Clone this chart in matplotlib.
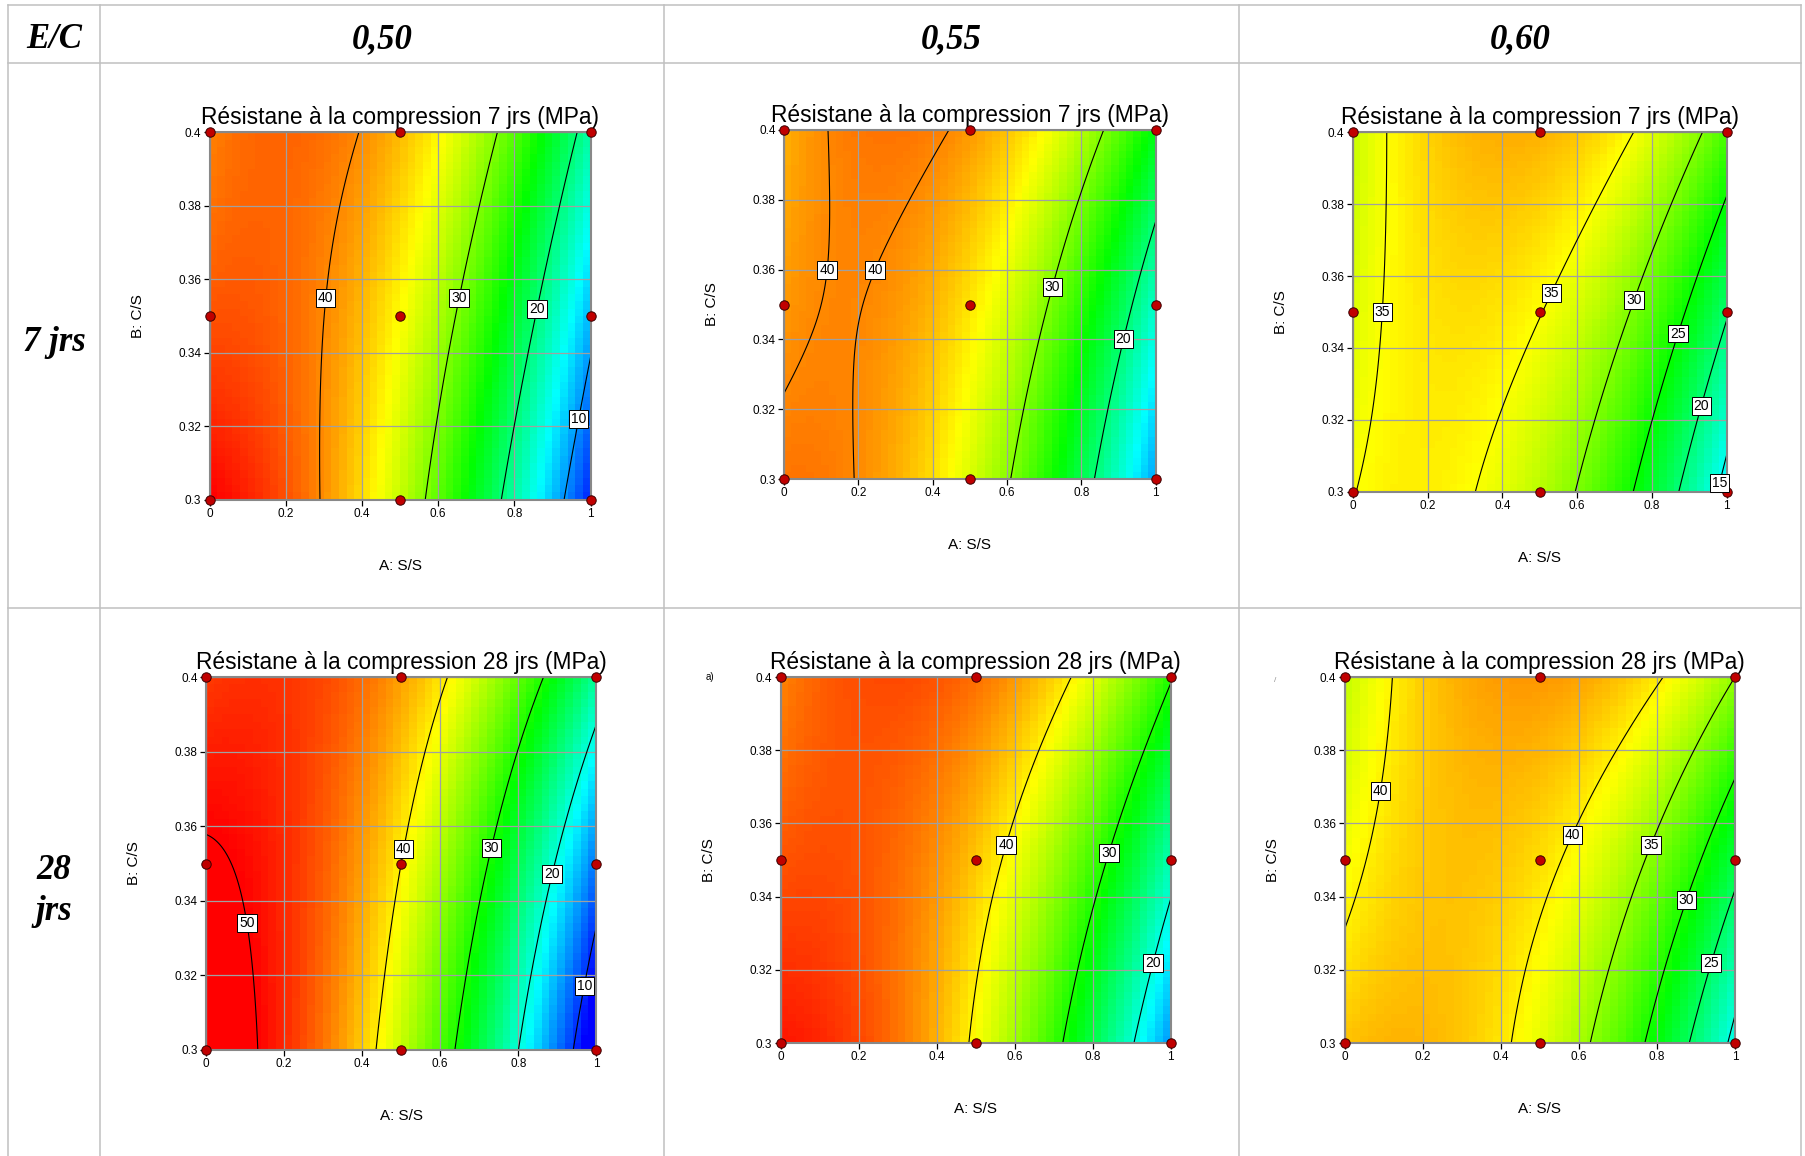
import numpy as np
import matplotlib
matplotlib.use("Agg")
import matplotlib.pyplot as plt
from matplotlib.colors import LinearSegmentedColormap
from matplotlib.lines import Line2D

plt.rcParams['font.family'] = ['Liberation Sans', 'DejaVu Sans']

# ---------------- data ----------------
A_levels = [0.0, 0.5, 1.0]          # A: S/S design levels
B_levels = [0.30, 0.35, 0.40]       # B: C/S design levels
ec_labels = ['0,50', '0,55', '0,60']
age_labels = ['7 jrs', '28\njrs']
titles = ['Résistane à la compression 7 jrs (MPa)',
          'Résistane à la compression 28 jrs (MPa)']

# response (MPa) at design points: rows = B_levels, columns = A_levels
r7_050 = [[45.7, 32.8, 5.3], [42.2, 35.2, 11.4], [40.3, 38.0, 18.0]]
r7_055 = [[40.8, 33.7, 10.6], [39.3, 36.2, 16.6], [38.3, 39.3, 24.1]]
r7_060 = [[34.9, 32.3, 13.7], [33.7, 35.1, 20.3], [32.8, 38.3, 27.7]]
r28_050 = [[52.5, 37.1, 5.4], [50.4, 40.0, 12.8], [47.5, 43.4, 22.8]]
r28_055 = [[49.1, 39.4, 14.0], [46.5, 41.8, 21.7], [44.5, 45.4, 30.3]]
r28_060 = [[41.9, 38.5, 19.0], [39.0, 40.8, 26.3], [36.9, 43.7, 35.0]]

# labelled contour levels, and unlabelled ones
levels_7_050 = [10, 20, 30, 40]
levels_7_055 = [20, 30, 40]
levels_7_060 = [15, 20, 25, 30, 35]
levels_28_050 = [10, 20, 30, 40, 50]
levels_28_055 = [20, 30, 40]
levels_28_060 = [25, 30, 35, 40]
unlabelled_28_060 = [20]

range_7 = (4, 45.6)
range_28 = (8, 50)

# ---------------- layout / style ----------------
W, H = 1805, 1156
fig = plt.figure(figsize=(W / 100, H / 100), dpi=100)
fig.patch.set_facecolor('white')

cmap = LinearSegmentedColormap.from_list(
    'de', ['#0000ff', '#00ffff', '#00ff00', '#ffff00', '#ff0000'])

# axes boxes in pixels: (x0, x1, ytop, ybottom)
boxes = [(209.5, 590.6, 132.4, 499.6), (784, 1155.8, 130, 479), (1352.7, 1726.8, 132.4, 491.6),
         (206, 596.3, 677, 1050), (780.5, 1170.8, 677, 1043), (1344.6, 1734.9, 677, 1043)]

label_pos = [
    [(0.30, 0.355), (0.645, 0.355), (0.855, 0.352), (0.965, 0.322)],
    [(0.11, 0.36), (0.245, 0.36), (0.725, 0.355), (0.915, 0.34)],
    [(0.08, 0.35), (0.525, 0.3555), (0.75, 0.3535), (0.87, 0.344), (0.93, 0.324), (0.978, 0.3025)],
    [(0.10, 0.334), (0.504, 0.354), (0.733, 0.354), (0.892, 0.347), (0.972, 0.317)],
    [(0.58, 0.354), (0.842, 0.352), (0.951, 0.322)],
    [(0.08, 0.369), (0.58, 0.357), (0.785, 0.354), (0.876, 0.339), (0.935, 0.322)],
]

panels = [
    (r7_050, levels_7_050, [], range_7, titles[0]),
    (r7_055, levels_7_055, [], range_7, titles[0]),
    (r7_060, levels_7_060, [], range_7, titles[0]),
    (r28_050, levels_28_050, [], range_28, titles[1]),
    (r28_055, levels_28_055, [], range_28, titles[1]),
    (r28_060, levels_28_060, unlabelled_28_060, range_28, titles[1]),
]


def lagrange(t, nodes):
    t = np.asarray(t, dtype=float)
    n0, n1, n2 = nodes
    return np.array([(t - n1) * (t - n2) / ((n0 - n1) * (n0 - n2)),
                     (t - n0) * (t - n2) / ((n1 - n0) * (n1 - n2)),
                     (t - n0) * (t - n1) / ((n2 - n0) * (n2 - n1))])


def surface(a, b, z):
    # quadratic response-surface model through the design-point values
    return lagrange(b, B_levels).T @ np.asarray(z) @ lagrange(a, A_levels)


n_cells = 50
a_edges = np.linspace(A_levels[0], A_levels[-1], n_cells + 1)
b_edges = np.linspace(B_levels[0], B_levels[-1], n_cells + 1)
a_cent = 0.5 * (a_edges[1:] + a_edges[:-1])
b_cent = 0.5 * (b_edges[1:] + b_edges[:-1])
a_fine = np.linspace(A_levels[0], A_levels[-1], 241)
b_fine = np.linspace(B_levels[0], B_levels[-1], 241)
AA, BB = np.meshgrid(A_levels, B_levels)

for i, (z, lev, extra, (vmin, vmax), title) in enumerate(panels):
    x0, x1, yt, yb = boxes[i]
    ax = fig.add_axes([x0 / W, 1 - yb / H, (x1 - x0) / W, (yb - yt) / H])
    ax.pcolormesh(a_edges, b_edges, surface(a_cent, b_cent, z), cmap=cmap,
                  vmin=vmin, vmax=vmax, shading='flat', zorder=1)
    zf = surface(a_fine, b_fine, z)
    cs = ax.contour(a_fine, b_fine, zf, levels=lev,
                    colors='black', linewidths=0.8, zorder=3)
    if extra:
        ax.contour(a_fine, b_fine, zf, levels=extra,
                   colors='black', linewidths=0.8, zorder=3)
    ax.clabel(cs, inline=False, fmt='%d', fontsize=10, manual=label_pos[i])
    for t in cs.labelTexts:
        t.set_rotation(0)
        t.set_zorder(8)
        t.set_clip_on(False)
        t.set_bbox(dict(boxstyle='square,pad=0.14', fc='white', ec='black', lw=0.7))
    ax.scatter(AA.ravel(), BB.ravel(), s=46, c='#c00000', edgecolors='#3a0000',
               linewidths=0.7, zorder=7, clip_on=False)
    ax.set_xlim(A_levels[0], A_levels[-1])
    ax.set_ylim(B_levels[0], B_levels[-1])
    ax.set_xticks([0, 0.2, 0.4, 0.6, 0.8, 1.0])
    ax.set_xticklabels(['0', '0.2', '0.4', '0.6', '0.8', '1'])
    ax.set_yticks([0.30, 0.32, 0.34, 0.36, 0.38, 0.40])
    ax.set_yticklabels(['0.3', '0.32', '0.34', '0.36', '0.38', '0.4'])
    ax.grid(True, color='#a0a0a0', linewidth=0.9)
    ax.set_axisbelow(False)
    ax.tick_params(direction='out', length=4, width=0.9, pad=2, labelsize=8.5,
                   colors='black')
    for sp in ax.spines.values():
        sp.set_color('#888888')
        sp.set_linewidth(1.5)
        sp.set_zorder(5)
    ax.set_xlabel('A: S/S', fontsize=11, labelpad=28)
    ax.set_ylabel('B: C/S', fontsize=11, labelpad=24)
    ax.set_title(title, fontsize=16.4, pad=6)

# tiny stray marks of the original
fig.text(710 / W, 1 - 677 / H, 'a)', fontsize=7, ha='center', va='center')
fig.text(1275 / W, 1 - 681 / H, '/', fontsize=6, color='#909090', ha='center', va='center')

# ---------------- table ----------------
gcol = '#c0c0c0'
for y in [5, 63, 608]:
    fig.add_artist(Line2D([8 / W, 1801 / W], [1 - y / H, 1 - y / H], color=gcol, lw=1.1))
for x in [8, 100, 664, 1239, 1801]:
    fig.add_artist(Line2D([x / W, x / W], [1 - 5 / H, 0], color=gcol, lw=1.1))

hdr = dict(family=['Liberation Serif', 'DejaVu Serif'], weight='bold', style='italic',
           fontsize=25, ha='center', va='center')
fig.text(54 / W, 1 - 40 / H, 'E/C', **hdr)
for x, s in zip([382, 951, 1520], ec_labels):
    fig.text(x / W, 1 - 40 / H, s, **hdr)
fig.text(54 / W, 1 - 343 / H, age_labels[0], **hdr)
fig.text(54 / W, 1 - 891 / H, age_labels[1], linespacing=1.35, **hdr)

fig.savefig('out.png', dpi=100, facecolor='white')
